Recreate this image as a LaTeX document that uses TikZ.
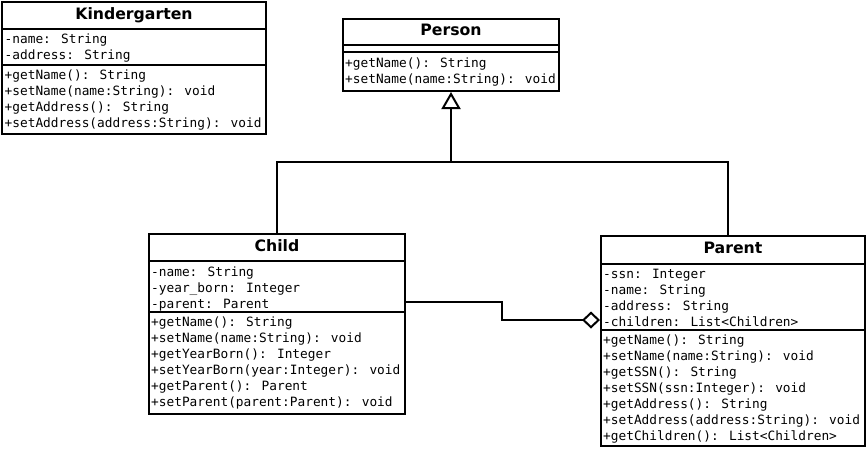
\documentclass[tikz,border=0pt]{standalone}
\usepackage{fontspec}
\setmainfont{DejaVu Sans}
\newfontfamily\titlefam{DejaVu Sans}
\newfontfamily\monofam{DejaVu Sans Mono}
\usetikzlibrary{arrows.meta}
\tikzset{
  classbox/.style={draw=black, line width=2pt, rectangle, inner sep=0pt, anchor=north west, fill=white},
  sepline/.style={draw=black, line width=2pt},
  classtitle/.style={inner sep=0pt, anchor=base, font=\titlefam\bfseries\fontsize{15.7}{18}\selectfont},
  member/.style={inner sep=0pt, anchor=base west, font=\monofam\fontsize{12.8}{16}\selectfont},
  conn/.style={draw=black, line width=2pt},
}
\begin{document}
\begin{tikzpicture}[x=1pt, y=-1pt]
\useasboundingbox (0,0) rectangle (867,448);

% ---------------- Kindergarten
\node[classbox, minimum width=264pt, minimum height=132pt] (kg) at (1,1) {};
\draw[sepline] (kg.west |- 0,29) -- (kg.east |- 0,29);
\draw[sepline] (kg.west |- 0,65) -- (kg.east |- 0,65);
\node[classtitle] (kgt) at (kg.north |- 0,19.3) {Kindergarten};
\foreach \t [count=\i] in {-name: String, -address: String}
  \node[member] (kga\i) at (4.5,{29+14.5+16*(\i-1)}) {\t};
\foreach \t [count=\i] in {+getName(): String, +setName(name:String): void, +getAddress(): String, +setAddress(address:String): void}
  \node[member] (kgm\i) at (4.5,{65+14.5+16*(\i-1)}) {\t};

% ---------------- Person
\node[classbox, minimum width=216pt, minimum height=72pt] (person) at (342,18) {};
\draw[sepline] (person.west |- 0,45) -- (person.east |- 0,45);
\draw[sepline] (person.west |- 0,52) -- (person.east |- 0,52);
\node[classtitle] (pt) at (person.north |- 0,35.3) {Person};
\foreach \t [count=\i] in {+getName(): String, +setName(name:String): void}
  \node[member] (pm\i) at (345,{52+15+16*(\i-1)}) {\t};

% ---------------- Child
\node[classbox, minimum width=256pt, minimum height=180pt] (child) at (148,233) {};
\draw[sepline] (child.west |- 0,261) -- (child.east |- 0,261);
\draw[sepline] (child.west |- 0,312) -- (child.east |- 0,312);
\node[classtitle] (ct) at (child.north |- 0,251.3) {Child};
\foreach \t [count=\i] in {-name: String, -year\_born: Integer, -parent: Parent}
  \node[member] (ca\i) at (151,{261+15+16*(\i-1)}) {\t};
\foreach \t [count=\i] in {+getName(): String, +setName(name:String): void, +getYearBorn(): Integer, +setYearBorn(year:Integer): void, +getParent(): Parent, +setParent(parent:Parent): void}
  \node[member] (cm\i) at (151,{312+14+16*(\i-1)}) {\t};

% ---------------- Parent
\node[classbox, minimum width=264pt, minimum height=210pt] (parent) at (600,235) {};
\draw[sepline] (parent.west |- 0,264) -- (parent.east |- 0,264);
\draw[sepline] (parent.west |- 0,330) -- (parent.east |- 0,330);
\node[classtitle] (pat) at (parent.north |- 0,253.3) {Parent};
\foreach \t [count=\i] in {-ssn: Integer, -name: String, -address: String, -children: List<Children>}
  \node[member] (paa\i) at (603,{264+14.5+16*(\i-1)}) {\t};
\foreach \t [count=\i] in {+getName(): String, +setName(name:String): void, +getSSN(): String, +setSSN(ssn:Integer): void, +getAddress(): String, +setAddress(address:String): void, +getChildren(): List<Children>}
  \node[member] (pam\i) at (603,{330+14.5+16*(\i-1)}) {\t};

% ---------------- Generalization
\coordinate (junc) at (451,162);
\draw[conn] (child.north) |- (junc) -| ([xshift=-5pt]parent.north);
\draw[conn, -{Triangle[open, length=17pt, width=19pt]}] (junc) -- (person.south -| junc);

% ---------------- Aggregation
\coordinate (bend) at (502,320);
\draw[conn, -{Diamond[open, length=18pt, width=17pt]}] (child.east |- 0,302) -| (bend) -- (parent.west |- 0,320);
\end{tikzpicture}
\end{document}
